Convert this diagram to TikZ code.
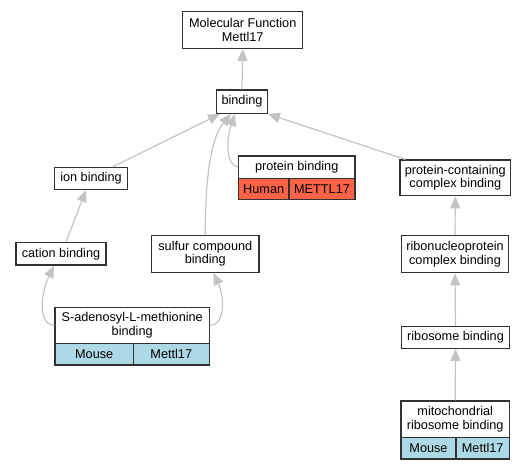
\documentclass[tikz,border=0pt]{standalone}
\usepackage{fontspec}
\setmainfont{Liberation Sans}
\usetikzlibrary{arrows.meta}
\definecolor{edgecol}{RGB}{196,196,196}
\definecolor{boxcol}{RGB}{50,50,50}
\definecolor{mouseblue}{HTML}{ADD8E6}
\definecolor{humanred}{HTML}{FF6347}
\begin{document}
\begin{tikzpicture}[x=1pt,y=-1pt,
  box/.style={draw=boxcol,line width=1.2pt,fill=white,inner sep=0pt,align=center,
    font=\fontsize{12.7}{13.4}\selectfont},
  cell/.style={box},
  edge/.style={draw=edgecol,line width=1.2pt,-{Triangle[length=12pt,width=10pt]}}]
\useasboundingbox (0,0) rectangle (528,469);
\node[box,minimum width=120pt,minimum height=36.6pt] (mf) at (242.7,30) {Molecular Function\\Mettl17};
\node[box,minimum width=50.7pt,minimum height=23.3pt] (binding) at (242,101.7) {binding};
\node[box,minimum width=73.4pt,minimum height=22pt] (ion) at (91,178.3) {ion binding};
\node[box,minimum width=116.7pt,minimum height=22.3pt] (protH) at (296.7,167.2) {protein binding};
\node[cell,fill=humanred,minimum width=50.7pt,minimum height=21pt] (protA) at (263.7,188.8) {Human};
\node[cell,fill=humanred,minimum width=66pt,minimum height=21pt] (protB) at (322,188.8) {METTL17};
\node[box,minimum width=110.7pt,minimum height=35.7pt] (pcc) at (455.3,177.9) {protein-containing\\complex binding};
\node[box,minimum width=90pt,minimum height=22.3pt] (cation) at (61,253.9) {cation binding};
\node[box,minimum width=107.3pt,minimum height=36.6pt] (sulfur) at (205.3,254) {sulfur compound\\binding};
\node[box,minimum width=106.6pt,minimum height=37pt] (rnp) at (455,254.2) {ribonucleoprotein\\complex binding};
\node[box,minimum width=154.3pt,minimum height=36pt] (samH) at (132.2,325.3) {S-adenosyl-L-methionine\\binding};
\node[cell,fill=mouseblue,minimum width=78.3pt,minimum height=21.7pt] (samA) at (94.2,354.2) {Mouse};
\node[cell,fill=mouseblue,minimum width=76pt,minimum height=21.7pt] (samB) at (171.3,354.2) {Mettl17};
\node[box,minimum width=107.6pt,minimum height=21.7pt] (ribo) at (455.5,337.5) {ribosome binding};
\node[box,minimum width=108.3pt,minimum height=36.3pt] (mitoH) at (455.2,419.2) {mitochondrial\\ribosome binding};
\node[cell,fill=mouseblue,minimum width=55pt,minimum height=21.7pt] (mitoA) at (428.5,448.2) {Mouse};
\node[cell,fill=mouseblue,minimum width=53.3pt,minimum height=21.7pt] (mitoB) at (482.7,448.2) {Mettl17};
% edges
\draw[edge] (binding.north) -- (mf.south);
\draw[edge] ([xshift=22pt]ion.north) -- ([xshift=-22pt]binding.south);
\draw[edge] (protH.west) .. controls (226,165) and (226,140) .. ([xshift=-7pt]binding.south);
\draw[edge] (sulfur.north) .. controls (205,170) and (213,135) .. ([xshift=-11pt]binding.south);
\draw[edge] ([xshift=-50pt]pcc.north) -- (binding.south east);
\draw[edge] ([xshift=5pt]cation.north) -- ([xshift=-5pt]ion.south);
\draw[edge] (samH.west) .. controls (38,325) and (40,295) .. ([xshift=-7pt]cation.south);
\draw[edge] (samH.east) .. controls (226,325) and (224,295) .. ([xshift=8pt]sulfur.south);
\draw[edge] (rnp.north) -- (pcc.south);
\draw[edge] (ribo.north) -- (rnp.south);
\draw[edge] (mitoH.north) -- (ribo.south);
\end{tikzpicture}
\end{document}
